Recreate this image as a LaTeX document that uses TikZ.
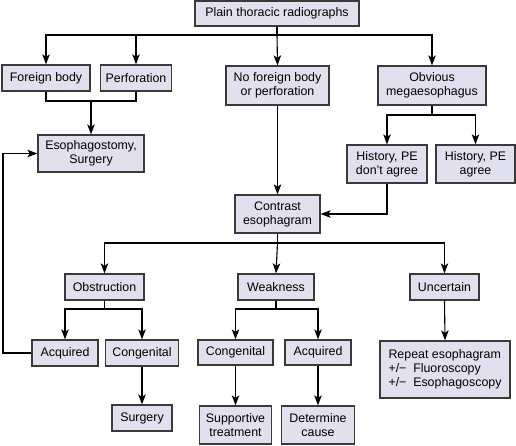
\documentclass[tikz,border=0pt]{standalone}
\usepackage{fontspec}
\setmainfont{Liberation Sans}
\usetikzlibrary{arrows.meta}
\definecolor{boxfill}{HTML}{E0E0EE}
\definecolor{boxline}{HTML}{3A3A3A}
\begin{document}
\begin{tikzpicture}[x=1pt,y=-1pt,
  bx/.style={draw=boxline,line width=1.3pt,fill=boxfill,inner sep=0pt,align=center,
    font=\fontsize{12.4}{14}\selectfont},
  ln/.style={line width=1.1pt,draw=black},
  arr/.style={ln,-{Stealth[length=10pt,width=7.5pt,inset=2.5pt]}}]
\useasboundingbox (0,0) rectangle (516,445);
\node[bx,minimum width=164pt,minimum height=25pt] (top) at (277,13.5) {Plain thoracic radiographs};
\node[bx,minimum width=88pt,minimum height=26pt] (fb) at (46,78) {Foreign body};
\node[bx,minimum width=71pt,minimum height=26pt] (perf) at (136,78) {Perforation};
\node[bx,minimum width=103pt,minimum height=39pt] (nofb) at (277.5,85.5) {No foreign body\\or perforation};
\node[bx,minimum width=108pt,minimum height=39pt] (mega) at (432,85.5) {Obvious\\megaesophagus};
\node[bx,minimum width=106pt,minimum height=37pt] (eso) at (91,153.5) {Esophagostomy,\\Surgery};
\node[bx,minimum width=80pt,minimum height=38pt] (hd) at (387,164) {History, PE\\don’t agree};
\node[bx,minimum width=79pt,minimum height=38pt] (ha) at (475.5,164) {History, PE\\agree};
\node[bx,minimum width=85pt,minimum height=38pt] (con) at (277.5,214) {Contrast\\esophagram};
\node[bx,minimum width=79pt,minimum height=26pt] (obs) at (104.5,287) {Obstruction};
\node[bx,minimum width=76pt,minimum height=26pt] (weak) at (276,287) {Weakness};
\node[bx,minimum width=69pt,minimum height=26pt] (unc) at (444.5,287) {Uncertain};
\node[bx,minimum width=66pt,minimum height=26pt] (acqa) at (65,353) {Acquired};
\node[bx,minimum width=73pt,minimum height=26pt] (conga) at (142,353) {Congenital};
\node[bx,minimum width=60pt,minimum height=26pt] (surg) at (142,418) {Surgery};
\node[bx,minimum width=75pt,minimum height=25pt] (congb) at (235.5,352.5) {Congenital};
\node[bx,minimum width=66pt,minimum height=25pt] (acqb) at (318,352.5) {Acquired};
\node[bx,minimum width=72pt,minimum height=38pt] (supp) at (235.5,425) {Supportive\\treatment};
\node[bx,minimum width=73pt,minimum height=38pt] (det) at (318,425) {Determine\\cause};
\node[bx,minimum width=130pt,minimum height=57pt,align=left] (rep) at (445,369.5) {Repeat esophagram\\+/−\hspace{0.55em}Fluoroscopy\\+/−\hspace{0.55em}Esophagoscopy};
% junctions
\coordinate (j1) at (277,35);
\coordinate (j2) at (91,101);
\coordinate (j3) at (432,115);
\coordinate (j4) at (277.5,243);
\coordinate (j5) at (104.5,309);
\coordinate (j6) at (276,309);
\coordinate (lb) at (3,353);
% connectors
\draw[ln] (top.south) -- (j1);
\draw[arr] (j1) -| (fb.north);
\draw[arr] (j1) -| (perf.north);
\draw[arr] (j1) -| (mega.north);
\draw[arr] (j1) -- (nofb.north);
\draw[ln] (fb.south) |- (j2);
\draw[ln] (perf.south) |- (j2);
\draw[arr] (j2) -- (eso.north);
\draw[ln] (mega.south) -- (j3);
\draw[arr] (j3) -| (hd.north);
\draw[arr] (j3) -| (ha.north);
\draw[arr] (nofb.south) -- (con.north);
\draw[arr] (hd.south) |- (con.east);
\draw[ln] (con.south) -- (j4);
\draw[arr] (j4) -| (obs.north);
\draw[arr] (j4) -- (weak.north);
\draw[arr] (j4) -| (unc.north);
\draw[ln] (obs.south) -- (j5);
\draw[arr] (j5) -| (acqa.north);
\draw[arr] (j5) -| (conga.north);
\draw[ln] (weak.south) -- (j6);
\draw[arr] (j6) -| (congb.north);
\draw[arr] (j6) -| (acqb.north);
\draw[arr] (conga.south) -- (surg.north);
\draw[arr] (congb.south) -- (supp.north);
\draw[arr] (acqb.south) -- (det.north);
\draw[arr] (unc.south) -- (rep.north);
\draw[arr] (acqa.west) -- (lb) |- (eso.west);
\end{tikzpicture}
\end{document}
